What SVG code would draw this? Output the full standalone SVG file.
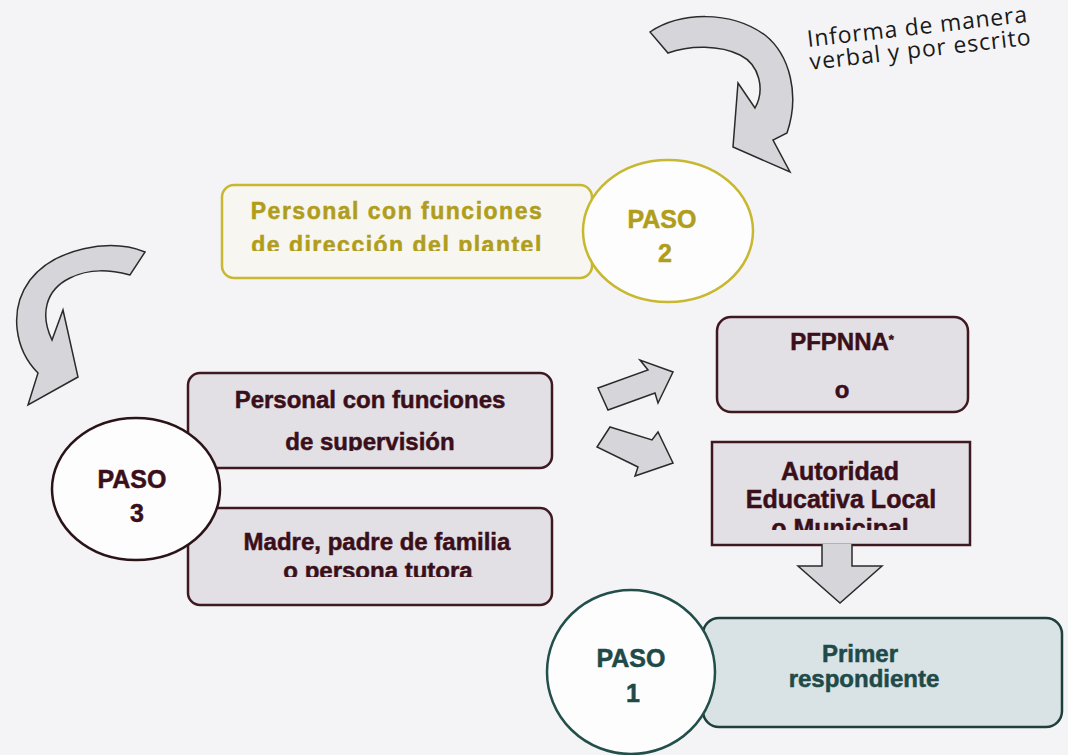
<svg xmlns="http://www.w3.org/2000/svg" width="1068" height="755" viewBox="0 0 1068 755">
<style>
text{font-family:"Liberation Sans",Arial,sans-serif;font-weight:bold;text-anchor:middle;stroke-width:0.5}
.y{fill:#b09d1c;stroke:#b09d1c}
.m{fill:#3b0f19;stroke:#3b0f19}
.t{fill:#1f4a48;stroke:#1f4a48}
.note{font-family:"Open Sans","Liberation Sans",sans-serif;font-weight:normal;text-anchor:start;fill:#1a1a1a;font-size:23px;stroke:none}
.boxm{fill:#e2dfe5;stroke:#3e1a20;stroke-width:2.5}
.circ{fill:#fdfdfd;stroke-width:2.5}
.arr{fill:#d6d6da;stroke:#2a2a2a;stroke-width:1.5;stroke-linejoin:miter}
</style>
<defs>
<clipPath id="cY"><rect x="222" y="185" width="370" height="66"/></clipPath>
<clipPath id="cS"><rect x="188" y="373" width="364" height="78"/></clipPath>
<clipPath id="cM"><rect x="188" y="508" width="364" height="69"/></clipPath>
<clipPath id="cA"><rect x="712" y="442" width="258" height="88"/></clipPath>
</defs>
<rect width="1068" height="755" fill="#f4f4f6"/>

<g id="note" transform="translate(808,47) rotate(-6.5)">
<text class="note" x="0" y="0" textLength="221" lengthAdjust="spacing">Informa de manera</text>
<text class="note" x="0" y="23" textLength="222" lengthAdjust="spacing">verbal y por escrito</text>
</g>

<g id="box-direccion">
<rect x="222" y="185" width="370" height="93" rx="12" fill="#f7f6f0" stroke="#c8b830" stroke-width="2.5"/>
<g clip-path="url(#cY)">
<text class="y" x="397" y="219" font-size="23" letter-spacing="1.5">Personal con funciones</text>
<text class="y" x="397" y="253" font-size="23" letter-spacing="1.5">de dirección del plantel</text>
</g>
</g>
<g id="paso2">
<ellipse class="circ" cx="668" cy="231" rx="85" ry="71" stroke="#c8b830"/>
<text class="y" x="662" y="228" font-size="25">PASO</text>
<text class="y" x="665" y="262" font-size="25">2</text>
</g>

<g id="box-supervision">
<rect class="boxm" x="188" y="373" width="364" height="95" rx="12"/>
<g clip-path="url(#cS)">
<text class="m" x="370" y="408" font-size="24">Personal con funciones</text>
<text class="m" x="370" y="450" font-size="24">de supervisión</text>
</g>
</g>
<g id="box-madre">
<rect class="boxm" x="188" y="508" width="364" height="97" rx="12"/>
<g clip-path="url(#cM)">
<text class="m" x="377" y="550" font-size="24">Madre, padre de familia</text>
<text class="m" x="378" y="579" font-size="24">o persona tutora</text>
</g>
</g>
<g id="paso3">
<ellipse class="circ" cx="136" cy="489" rx="84" ry="71" stroke="#2a1418"/>
<text class="m" x="132" y="488" font-size="25">PASO</text>
<text class="m" x="137" y="522" font-size="25">3</text>
</g>

<g id="box-pfpnna">
<rect class="boxm" x="717" y="317" width="251" height="95" rx="14"/>
<text class="m" x="842" y="350" font-size="24">PFPNNA<tspan font-size="13" dy="-6">*</tspan></text>
<text class="m" x="842" y="398" font-size="24">o</text>
</g>
<g id="box-autoridad">
<rect class="boxm" x="712" y="442" width="258" height="103" rx="0"/>
<g clip-path="url(#cA)">
<text class="m" x="840" y="480" font-size="25">Autoridad</text>
<text class="m" x="841" y="508" font-size="25">Educativa Local</text>
<text class="m" x="840" y="537" font-size="25">o Municipal</text>
</g>
</g>

<g id="box-primer">
<rect x="703" y="618" width="359" height="109" rx="16" fill="#d9e2e5" stroke="#1e3f3c" stroke-width="2.5"/>
<text class="t" x="860" y="662" font-size="24">Primer</text>
<text class="t" x="864" y="687" font-size="24">respondiente</text>
</g>
<g id="paso1">
<ellipse class="circ" cx="631" cy="672" rx="84" ry="82" stroke="#234f4b"/>
<text class="t" x="631" y="667" font-size="25">PASO</text>
<text class="t" x="633" y="702" font-size="25">1</text>
</g>

<g id="connectors">
<path id="arrow-top" class="arr" d="M650,32 C680,12 730,10 765,35 C790,55 800,95 787,133 L773,140 L790,172 L733,147 L738,83 L755,108 C765,90 760,65 740,55 C720,45 690,45 668,53 Z"/>
<path id="arrow-left" class="arr" d="M145,252 C110,238 55,248 30,280 C8,310 15,350 38,373 L28,405 L78,377 L63,310 L52,340 C40,315 45,290 70,278 C90,268 110,270 130,275 Z"/>
<path id="arrow-up-right" class="arr" d="M598,388 L648,370 L640,360 L673,372 L658,403 L655,393 L608,410 Z"/>
<path id="arrow-down-right" class="arr" d="M610,427 L652,440 L658,432 L673,463 L635,476 L638,467 L597,447 Z"/>
<path id="arrow-down" class="arr" d="M822,544 L822,566 L798,566 L840,603 L882,566 L852,566 L852,544"/>
</g>
</svg>
